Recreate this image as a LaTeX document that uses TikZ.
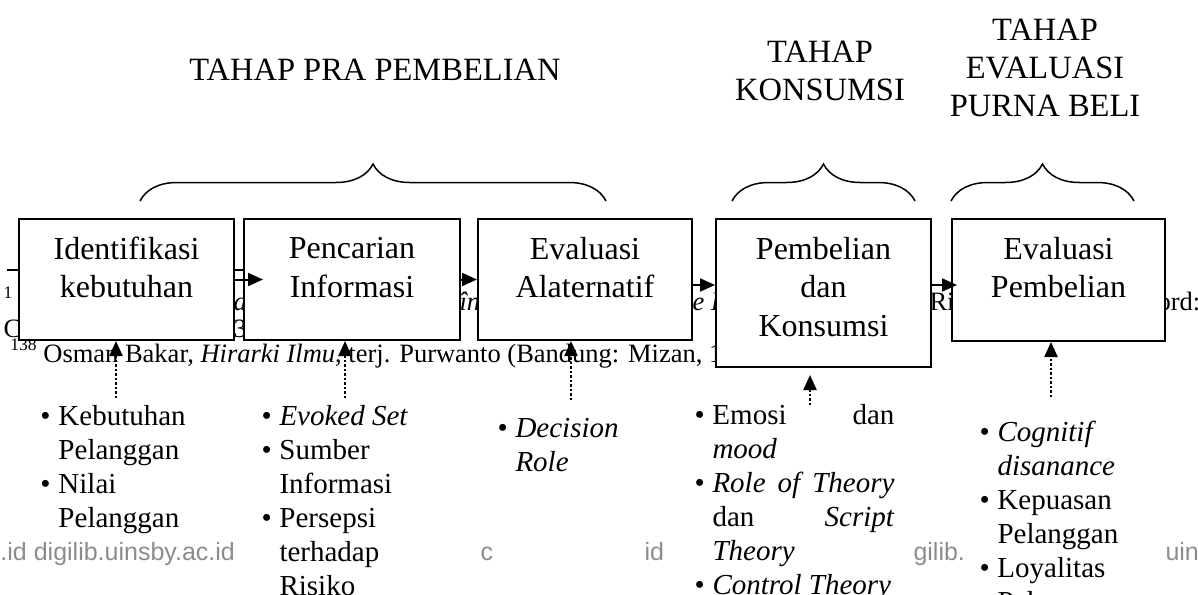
\documentclass[tikz,border=0pt]{standalone}
\usepackage{fontspec}
\setmainfont{Liberation Serif}
\newfontfamily\wmfont{Liberation Sans}
\usepackage{tikz}
\usetikzlibrary{calc,arrows.meta,decorations.pathreplacing}

\newcommand{\butir}[1]{\noindent\hangindent=7.2pt\hangafter=1\makebox[7.2pt][l]{\textbullet}#1\par}
\newcommand{\kaki}[1]{\rule[-#1]{0pt}{0pt}}

\begin{document}
\begin{tikzpicture}[
        x=0.4pt, y=-0.4pt,
        % Kotak tahapan: garis hitam, isi putih
        kotak/.style={
            draw,
            line width=0.8pt,
            fill=white,
            anchor=north west,
            align=center,
            inner sep=0pt,
            font=\fontsize{12.8}{15.4}\selectfont
        },
        % Judul tahap di atas kurawal
        judul/.style={
            align=center,
            inner sep=0pt,
            font=\fontsize{13}{15.2}\selectfont
        },
        % Daftar butir di bawah kotak (rata kiri-kanan)
        daftar/.style={
            anchor=base west,
            align=justify,
            inner sep=0pt,
            font=\fontsize{11.6}{13.6}\selectfont
        },
        % Panah
        panah/.style={-{Triangle[length=6pt,width=5.2pt]}, line width=0.8pt},
        titik/.style={-{Triangle[length=6pt,width=5.2pt]}, line width=0.9pt, dash pattern=on 0.9pt off 0.9pt},
        kurawal/.style={decorate, decoration={brace, amplitude=14.8pt}, line width=0.6pt},
        % Sisa halaman di belakang gambar
        catatan/.style={anchor=base west, inner sep=0pt, font=\fontsize{10.6}{12}\selectfont},
        tanda/.style={anchor=base west, inner sep=0pt, text=black!45, font=\wmfont\fontsize{10}{12}\selectfont}
    ]
    \useasboundingbox (0,0) rectangle (1198,594);

        % --- SISA CATATAN KAKI (tertutup kotak) ---
        \draw[line width=0.6pt] (7,270) -- (243,270);
        \node[catatan] (fa1) at (3,298) {\fontsize{7}{8}\selectfont 1};
        \node[catatan] (fa2) at (233,310) {\textit{d}};
        \node[catatan] (fa3) at (459,310) {\textit{în}};
        \node[catatan] (fa4) at (692,310) {\textit{e I}};
        \node[catatan] (fa5) at (929,310) {Ri};
        \node[catatan] (fa6) at (1157,310) {ord:};
        \node[catatan] (fb1) at (3,337) {C};
        \node[catatan] (fb2) at (233,337) {35};
        \node[catatan] (fc) at (10,362) {\raisebox{4.5pt}{\fontsize{7}{8}\selectfont 138} Osman Bakar, \textit{Hirarki Ilmu}, terj. Purwanto (Bandung: Mizan, 1};

        % --- TANDA AIR ---
        \node[tanda] (w1) at (0,560) {.id digilib.uinsby.ac.id};
        \node[tanda] (w2) at (480,560) {c};
        \node[tanda] (w3) at (644,560) {id};
        \node[tanda] (w4) at (913,560) {gilib.};
        \node[tanda] (w5) at (1165,560) {uin};

        % --- JUDUL DAN KURAWAL ---
        \node[judul] (h1) at (375,70) {TAHAP PRA PEMBELIAN};
        \node[judul] (h2) at (820,71) {TAHAP\\KONSUMSI};
        \node[judul] (h3) at (1045,68) {TAHAP\\EVALUASI\\PURNA BELI};
        \draw[kurawal] (140,201) -- (606,201);
        \draw[kurawal] (732,201) -- (915,201);
        \draw[kurawal] (951,201) -- (1134,201);

        % --- KOTAK TAHAPAN ---
        \node[kotak, minimum width=86pt, minimum height=48.4pt] (b1) at (18,218) {Identifikasi\\kebutuhan\kaki{9.8pt}};
        \node[kotak, minimum width=86.4pt, minimum height=48.4pt] (b2) at (243,218) {Pencarian\\Informasi\kaki{9.8pt}};
        \node[kotak, minimum width=85.6pt, minimum height=48.4pt] (b3) at (477,218) {Evaluasi\\Alaternatif\kaki{9.8pt}};
        \node[kotak, minimum width=86pt, minimum height=59.2pt] (b4) at (715,218) {Pembelian\\dan\\Konsumsi\kaki{5.2pt}};
        \node[kotak, minimum width=85.2pt, minimum height=48.8pt] (b5) at (951,218) {Evaluasi\\Pembelian\kaki{10.2pt}};

        % Panah antar kotak
        \draw[panah] (b1.east) -- ([xshift=8pt]b2.west);
        \draw[panah] (b2.east) -- (b3.west);
        \draw[panah] ($(b3.east)+(0,5.5)$) -- ($(b3.east -| b4.west)+(0,5.5)$);
        \draw[panah] ($(b5.west -| b4.east)+(0,5)$) -- ($(b5.west)+(6,5)$);

        % --- PANAH TITIK DARI DAFTAR ---
        \coordinate (k1) at (116,398);
        \coordinate (k2) at (345,398);
        \coordinate (k3) at (571,400);
        \coordinate (k4) at (810,405);
        \coordinate (k5) at (1051,397);
        \draw[titik] (k1) -- (k1 |- b1.south);
        \draw[titik] (k2) -- (k2 |- b2.south);
        \draw[titik] (k3) -- (k3 |- b3.south);
        \draw[titik] (k4) -- ($(k4 |- b4.south)+(0,7)$);
        \draw[titik] (k5) -- (k5 |- b5.south);

        % --- DAFTAR BUTIR ---
        \node[daftar, text width=68pt] (d1) at (40,425) {\butir{Kebutuhan\newline Pelanggan}\butir{Nilai\newline Pelanggan}};
        \node[daftar, text width=64pt] (d2) at (261,425) {\butir{\textit{Evoked Set}}\butir{Sumber\newline Informasi}\butir{Persepsi\newline terhadap\newline Risiko}};
        \node[daftar, text width=56pt] (d3) at (497,437) {\butir{\textit{Decision\newline Role}}};
        \node[daftar, text width=80pt] (d4) at (694,424) {\butir{Emosi dan\linebreak \textit{mood}}\butir{\textit{Role of Theory}\linebreak dan \textit{Script}\linebreak \textit{Theory}}\butir{\textit{Control Theory}}};
        \node[daftar, text width=60pt] (d5) at (979,441) {\butir{\textit{Cognitif\newline disanance}}\butir{Kepuasan\newline Pelanggan}\butir{Loyalitas\newline Pelanggan}};

\end{tikzpicture}
\end{document}
